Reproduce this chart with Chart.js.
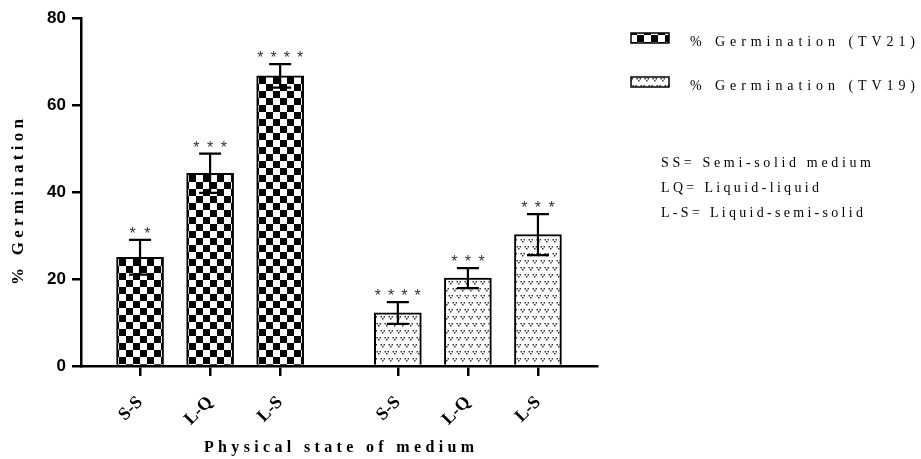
<!DOCTYPE html>
<html><head><meta charset="utf-8">
<script src="https://cdn.jsdelivr.net/npm/chart.js@4.4.1/dist/chart.umd.min.js"></script>
<style>html,body{margin:0;padding:0;background:#fff;} canvas{display:block;}</style>
</head><body>
<canvas id="c" width="921" height="459"></canvas>
<script>
// ---- data ----
const categories = ['S-S', 'L-Q', 'L-S'];
const tv21Values = [25.0, 44.3, 66.7];
const tv21Errors = [4.0, 4.5, 2.7];
const tv19Values = [12.2, 20.2, 30.2];
const tv19Errors = [2.5, 2.3, 4.7];
const tv21Stars = ['**', '***', '****'];
const tv19Stars = ['****', '***', '***'];
const yTicks = [0, 20, 40, 60, 80];
const seriesNames = ['% Germination (TV21)', '% Germination (TV19)'];
const notes = ['SS= Semi-solid medium', 'LQ= Liquid-liquid', 'L-S= Liquid-semi-solid'];
const xTitle = 'Physical state of medium';
const yTitle = '% Germination';

// ---- layout constants ----
const GROUP_GAP = 0.68;
const EDGE = 0.843;
const tv21X = categories.map((_, i) => i);
const tv19X = categories.map((_, i) => i + categories.length + GROUP_GAP);
const allX = tv21X.concat(tv19X);
const allLabels = categories.concat(categories);

// ---- patterns ----
function makeChecker() {
  const s = 7, t = document.createElement('canvas');
  t.width = 2 * s; t.height = 2 * s;
  const g = t.getContext('2d');
  g.fillStyle = '#fff'; g.fillRect(0, 0, 2 * s, 2 * s);
  g.fillStyle = '#000'; g.fillRect(0, 0, s, s); g.fillRect(s, s, s, s);
  return g.createPattern(t, 'repeat');
}
function makeStipple() {
  const t = document.createElement('canvas');
  t.width = 8; t.height = 14;
  const g = t.getContext('2d');
  g.fillStyle = '#fff'; g.fillRect(0, 0, 8, 14);
  g.fillStyle = '#333';
  const mark = (x, y) => {
    g.fillRect(x, y, 1.5, 1.5); g.fillRect(x + 3, y, 1.5, 1.5); g.fillRect(x + 1.5, y + 2, 1.5, 1.5);
  };
  mark(0.5, 1); mark(4.5, 8); mark(-3.5, 8);
  return g.createPattern(t, 'repeat');
}
const ctx = document.getElementById('c').getContext('2d');
const checker = makeChecker();
const stipple = makeStipple();

function spacedText(c, text, x, y, targetW, align) {
  c.letterSpacing = '0px';
  const w0 = c.measureText(text).width;
  const n = [...text].length;
  let ls = (targetW - w0) / (n - 1);
  if (ls < 0) ls = 0;
  c.letterSpacing = ls + 'px';
  c.textAlign = 'left';
  const sx = align === 'center' ? x - targetW / 2 : x;
  c.fillText(text, sx, y);
  c.letterSpacing = '0px';
}

const extras = {
  id: 'extras',
  afterDatasetsDraw(chart) {
    const c = chart.ctx, ys = chart.scales.y;
    const sets = [[tv21Values, tv21Errors, tv21Stars], [tv19Values, tv19Errors, tv19Stars]];
    sets.forEach(([vals, errs, stars], di) => {
      const meta = chart.getDatasetMeta(di);
      vals.forEach((v, i) => {
        const x = meta.data[i].x;
        const yt = ys.getPixelForValue(v + errs[i]);
        const yb = ys.getPixelForValue(v - errs[i]);
        c.save();
        c.strokeStyle = '#000'; c.lineWidth = 2.2;
        c.beginPath();
        c.moveTo(x, yt); c.lineTo(x, yb);
        c.moveTo(x - 11, yt); c.lineTo(x + 11, yt);
        c.moveTo(x - 11, yb); c.lineTo(x + 11, yb);
        c.stroke();
        c.fillStyle = '#333';
        c.font = '16px "Liberation Sans", Arial, sans-serif';
        c.textBaseline = 'alphabetic';
        const sw = stars[i].length * 12.5 - 4;
        spacedText(c, stars[i], x, yt - 1, sw, 'center');
        c.restore();
      });
    });
  },
  afterDraw(chart) {
    const c = chart.ctx, a = chart.chartArea;
    c.save();
    c.fillStyle = '#000';
    // axis titles
    c.font = 'bold 16px "Liberation Serif", "Times New Roman", serif';
    c.textBaseline = 'middle';
    spacedText(c, xTitle, (a.left + a.right) / 2, 448, 270, 'center');
    c.save();
    c.translate(19, 202);
    c.rotate(-Math.PI / 2);
    c.font = 'bold 17px "Liberation Serif", "Times New Roman", serif';
    spacedText(c, yTitle, 0, 0, 166, 'center');
    c.restore();
    // legend
    const fills = [checker, stipple];
    c.font = '14px "Liberation Serif", "Times New Roman", serif';
    seriesNames.forEach((name, i) => {
      const y = 38 + i * 44;
      c.fillStyle = fills[i];
      c.fillRect(631, y - 5, 38, 10);
      c.strokeStyle = '#000'; c.lineWidth = 1.5;
      c.strokeRect(631, y - 5, 38, 10);
      c.fillStyle = '#000';
      c.textBaseline = 'middle';
      spacedText(c, name, 690, y + 4, 225, 'left');
    });
    // notes
    c.font = '14px "Liberation Serif", "Times New Roman", serif';
    const noteW = [210, 158, 202];
    notes.forEach((t, i) => {
      spacedText(c, t, 661, 163 + i * 25, noteW[i], 'left');
    });
    c.restore();
  }
};

new Chart(ctx, {
  type: 'bar',
  data: {
    datasets: [
      { label: seriesNames[0], data: tv21Values.map((v, i) => ({ x: tv21X[i], y: v })),
        backgroundColor: checker, borderColor: '#000', borderWidth: 2, barThickness: 47, grouped: false },
      { label: seriesNames[1], data: tv19Values.map((v, i) => ({ x: tv19X[i], y: v })),
        backgroundColor: stipple, borderColor: '#000', borderWidth: 2, barThickness: 47, grouped: false }
    ]
  },
  options: {
    responsive: false, animation: false, devicePixelRatio: 1,
    layout: { padding: { left: 0, right: 324, top: 18, bottom: 0 } },
    plugins: { legend: { display: false }, tooltip: { enabled: false } },
    scales: {
      x: {
        type: 'linear', min: -EDGE, max: tv19X[tv19X.length - 1] + EDGE, offset: false,
        grid: { display: true, offset: false, drawOnChartArea: false, drawTicks: true, tickLength: 10, lineWidth: 2.5, tickWidth: 2.5, tickColor: '#000', color: '#000' },
        border: { display: true, color: '#000', width: 2.5 },
        afterBuildTicks: s => { s.ticks = allX.map(v => ({ value: v })); },
        afterFit: s => { s.height = 93; },
        ticks: { autoSkip: false, maxRotation: 45, minRotation: 45, padding: 16, color: '#000',
          font: { family: '"Liberation Serif", "Times New Roman", serif', size: 18, weight: 'bold' },
          callback: (v, i) => allLabels[i] }
      },
      y: {
        min: 0, max: 80,
        afterBuildTicks: s => { s.ticks = yTicks.map(v => ({ value: v })); },
        afterFit: s => { s.width = 81; },
        grid: { display: true, drawOnChartArea: false, drawTicks: true, tickLength: 9, lineWidth: 2.5, tickWidth: 2.5, tickColor: '#000', color: '#000' },
        border: { display: true, color: '#000', width: 2.5 },
        ticks: { padding: 6, color: '#000',
          font: { family: '"Liberation Sans", Arial, sans-serif', size: 17, weight: 'bold' } }
      }
    }
  },
  plugins: [extras]
});
</script>
</body></html>
